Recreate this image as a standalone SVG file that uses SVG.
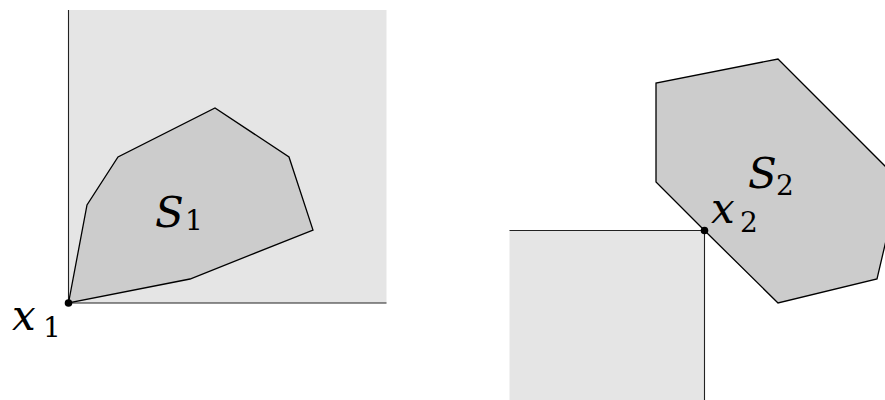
<svg xmlns="http://www.w3.org/2000/svg" width="885" height="400" viewBox="0 0 885 400">
<style>
.region{fill:#e5e5e5;stroke:none}
.edge{fill:none;stroke:#222;stroke-width:1.1}
.set{fill:#cccccc;stroke:#000;stroke-width:1.3;stroke-linejoin:miter}
.pt{fill:#000}
.lbl{font-family:'DejaVu Serif',serif;font-style:italic;font-size:42px;fill:#000}
.sub{font-family:'DejaVu Serif',serif;font-size:28px;fill:#000}
</style>
<rect width="885" height="400" fill="#fff"/>
<g id="cone1">
<rect class="region" x="68.5" y="10" width="318" height="293"/>
<path class="edge" d="M68.5 10 V303 H386.5"/>
</g>
<g id="S1">
<polygon class="set" points="68.5,303 87,205 118,157 215,108 289,157 313,230 190,279"/>
<text class="lbl" x="155" y="227">S</text>
<text class="sub" x="185" y="230">1</text>
</g>
<g id="x1">
<circle class="pt" cx="68.5" cy="303" r="3.8"/>
<text class="lbl" x="12" y="330">x</text>
<text class="sub" x="43" y="337">1</text>
</g>
<g id="cone2">
<rect class="region" x="509.5" y="230.5" width="195" height="170"/>
<path class="edge" d="M509.5 230.5 H704.5 V400"/>
</g>
<g id="S2">
<polygon class="set" points="704.5,230.5 656,182 656,83 778,59 895,176 895,202 877,279 778,303"/>
<text class="lbl" x="748" y="188">S</text>
<text class="sub" x="776" y="195">2</text>
</g>
<g id="x2">
<circle class="pt" cx="704.5" cy="230.5" r="3.8"/>
<text class="lbl" x="711" y="223">x</text>
<text class="sub" x="740" y="232">2</text>
</g>
</svg>
